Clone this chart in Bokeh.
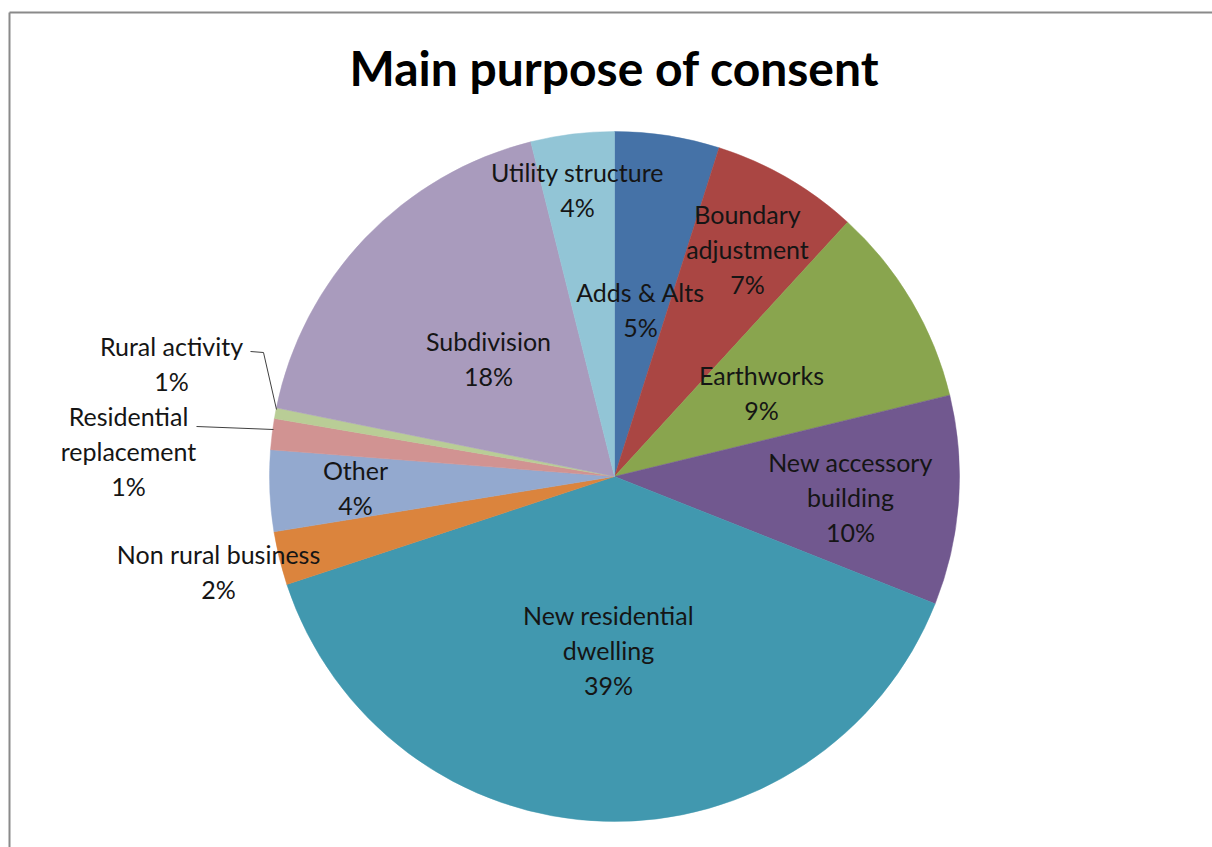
import math
from bokeh.plotting import figure
from bokeh.models import Range1d
from bokeh.core.properties import value
from bokeh.embed import file_html
from bokeh.resources import INLINE

# ---- data ----
categories = ["Adds & Alts", "Boundary adjustment", "Earthworks", "New accessory building",
              "New residential dwelling", "Non rural business", "Other",
              "Residential replacement", "Rural activity", "Subdivision", "Utility structure"]
shares = [4.9, 6.9, 9.4, 9.8, 38.9, 2.5, 3.8, 1.45, 0.5, 17.9, 3.9]
pct_labels = ["5%", "7%", "9%", "10%", "39%", "2%", "4%", "1%", "1%", "18%", "4%"]
colors = ["#4572A7", "#AA4643", "#89A54E", "#71588F", "#4198AF", "#DB843D",
          "#93A9CF", "#D19392", "#B9CD96", "#A99BBD", "#92C5D6"]

# ---- layout (page pixel positions) ----
W, H = 1212, 847
def Y(py):
    return H - py

cx, cy, R = 614, 476, 345
label_lines = [
    ["Adds & Alts"], ["Boundary", "adjustment"], ["Earthworks"], ["New accessory", "building"],
    ["New residential", "dwelling"], ["Non rural business"], ["Other"],
    ["Residential", "replacement"], ["Rural activity"], ["Subdivision"], ["Utility structure"],
]
label_pos = [(640, 291), (747, 213), (761, 374), (850, 461), (608, 614), (218, 553),
             (355, 469), (128, 415), (171, 345), (488, 340), (577, 171)]
line_gap = 35

p = figure(width=W, height=H, output_backend="svg", toolbar_location=None,
           x_range=Range1d(0, W), y_range=Range1d(0, H), min_border=0,
           background_fill_color="white", border_fill_color="white")
p.axis.visible = False
p.grid.visible = False
p.outline_line_color = None

# chart border (left & top)
p.segment(x0=[9, 9], y0=[Y(12), Y(12)], x1=[9, W + 20], y1=[-20, Y(12)],
          line_color="#8a8a8a", line_width=2)

total = sum(shares)
starts, ends = [], []
cum = 0.0
for s in shares:
    a0 = math.pi / 2 - 2 * math.pi * cum / total
    cum += s
    a1 = math.pi / 2 - 2 * math.pi * cum / total
    starts.append(a0)
    ends.append(a1)

p.wedge(x=[cx] * len(shares), y=[Y(cy)] * len(shares), radius=R,
        start_angle=starts, end_angle=ends, direction="clock",
        fill_color=colors, line_color=colors, line_width=0.5)

# leader lines
p.line(x=[250, 263, 276], y=[Y(351), Y(352), Y(409)], line_color="#404040", line_width=1)
p.line(x=[196, 273], y=[Y(426), Y(429)], line_color="#404040", line_width=1)

tx, ty, tt = [], [], []
for lines, pct, (lx, ly) in zip(label_lines, pct_labels, label_pos):
    for i, t in enumerate(lines + [pct]):
        tx.append(lx)
        ty.append(Y(ly + i * line_gap))
        tt.append(t)
p.text(x=tx, y=ty, text=tt, text_align="center", text_baseline="middle",
       text_font=value("Lato"), text_font_size="25px", text_color="#151515")

p.text(x=[614], y=[Y(67)], text=["Main purpose of consent"], text_align="center",
       text_baseline="middle", text_font=value("Lato"), text_font_size="48px",
       text_font_style="bold", text_color="black")

open("out.html", "w").write(file_html(p, INLINE))
